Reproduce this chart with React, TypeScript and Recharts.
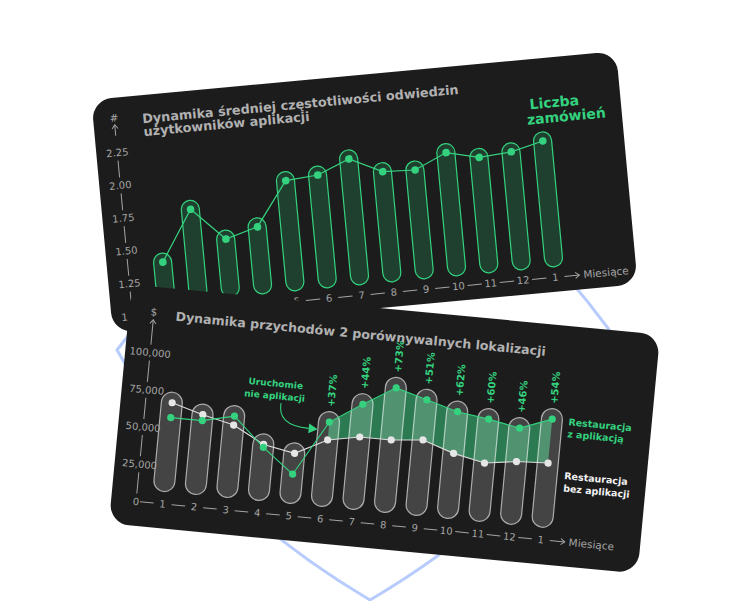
import React from 'react';
import { ComposedChart, Bar, Line, Area, XAxis, YAxis, LabelList } from 'recharts';

// --- data -------------------------------------------------------------
const months = ['1', '2', '3', '4', '5', '6', '7', '8', '9', '10', '11', '12', '1'];

const visitFrequency = [1.39, 1.77, 1.52, 1.59, 1.92, 1.94, 2.04, 1.92, 1.91, 2.02, 1.96, 1.98, 2.04];
const frequencyTicks = [1, 1.25, 1.5, 1.75, 2, 2.25];

const revenueWithApp = [58000, 58000, 63000, 44000, 28000, 65000, 79000, 92000, 86000, 80000, 77000, 73000, 81000];
const revenueWithoutApp = [68000, 62000, 57000, 46000, 42000, 53000, 57000, 57000, 59000, 52000, 47500, 50500, 51500];
const growthLabels = [null, null, null, null, null, '+37%', '+44%', '+73%', '+51%', '+62%', '+60%', '+46%', '+54%'];
const revenueTicks = [0, 25000, 50000, 75000, 100000];
const launchIndex = 5; // app launched before month 6

// --- styles -----------------------------------------------------------
const GREEN = '#34d27f';
const CARD_BG = '#1c1c1c';
const MUTED = '#a4a4a4';
const TITLE = '#b1b1b1';
const FONT = '"DejaVu Sans", sans-serif';

const frequencyData = months.map((m, i) => ({ month: m, value: visitFrequency[i] }));
const revenueData = months.map((m, i) => ({
  month: m,
  withApp: revenueWithApp[i],
  withoutApp: revenueWithoutApp[i],
  top: Math.max(revenueWithApp[i], revenueWithoutApp[i]),
  gap: i >= launchIndex ? [revenueWithoutApp[i], revenueWithApp[i]] : null,
  growth: growthLabels[i],
}));

function Pill(props: any) {
  const { x, y, width, height, inset, pillFill, pillStroke } = props;
  const r = width / 2;
  const top = y - r;
  const bottom = y + height - inset;
  return (
    <rect x={x} y={top} width={width} height={Math.max(bottom - top, width)} rx={r} ry={r}
      fill={pillFill} stroke={pillStroke} strokeWidth={1.2} />
  );
}

function YTick(props: any) {
  const { y, payload, index, count, labelX, step, fmt, symbol, symbolGap, arrowFrom, arrowTo } = props;
  const isTop = index === count - 1;
  return (
    <g>
      <text x={labelX} y={y} dy="0.35em" textAnchor="middle" fill={MUTED} fontSize={10} fontFamily={FONT}>
        {fmt(payload.value)}
      </text>
      {index > 0 && (
        <line x1={labelX} x2={labelX} y1={y + 8} y2={y + step - 8} stroke={MUTED} strokeWidth={1} />
      )}
      {isTop && (
        <g>
          <text x={labelX} y={y - symbolGap} dy="0.35em" textAnchor="middle" fill={MUTED} fontSize={10.5} fontFamily={FONT}>
            {symbol}
          </text>
          <line x1={labelX} x2={labelX} y1={y - arrowFrom} y2={y - arrowTo} stroke={MUTED} strokeWidth={1} />
          <path d={`M ${labelX - 3} ${y - arrowFrom + 4} L ${labelX} ${y - arrowFrom} L ${labelX + 3} ${y - arrowFrom + 4}`}
            fill="none" stroke={MUTED} strokeWidth={1} />
        </g>
      )}
    </g>
  );
}

function XTick(props: any) {
  const { x, y, payload, index, band, count } = props;
  return (
    <g>
      <line x1={x - band + 9} x2={x - 9} y1={y} y2={y} stroke={MUTED} strokeWidth={1} />
      <text x={x} y={y} dy="0.35em" textAnchor="middle" fill={MUTED} fontSize={10} fontFamily={FONT}>
        {payload.value}
      </text>
      {index === count - 1 && (
        <g>
          <line x1={x + 9} x2={x + 24} y1={y} y2={y} stroke={MUTED} strokeWidth={1} />
          <path d={`M ${x + 20} ${y - 3} L ${x + 24} ${y} L ${x + 20} ${y + 3}`} fill="none" stroke={MUTED} strokeWidth={1} />
          <text x={x + 28} y={y} dy="0.35em" fill={MUTED} fontSize={10.5} fontFamily={FONT}>Miesiące</text>
        </g>
      )}
    </g>
  );
}

function GrowthLabel(props: any) {
  const { value } = props;
  if (!value) return null;
  const px = props.x ?? props.viewBox?.x;
  const py = props.y ?? props.viewBox?.y;
  const ty = py - 10.5 - 5;
  return (
    <text x={px} y={ty} dy="0.35em" transform={`rotate(-90 ${px} ${ty})`} fill={GREEN}
      fontSize={10} fontWeight="bold" fontFamily={FONT}>
      {value}
    </text>
  );
}

const cardStyle = (cx: number, cy: number, w: number, h: number, angle: number): React.CSSProperties => ({
  position: 'absolute',
  left: cx - w / 2,
  top: cy - h / 2,
  width: w,
  height: h,
  background: CARD_BG,
  borderRadius: 20,
  overflow: 'hidden',
  transform: `rotate(${angle}deg)`,
});

const overlay: React.CSSProperties = { position: 'absolute', left: 0, top: 0, pointerEvents: 'none' };

function FrequencyCard() {
  const W = 527, H = 234;
  const band = 32.43;
  return (
    <div style={cardStyle(364, 192, W, H, -5.3)}>
      <ComposedChart width={W} height={H} data={frequencyData}
        margin={{ top: 55, right: 65, bottom: 0.5, left: 0 }}>
        <XAxis dataKey="month" interval={0} height={14} tickSize={0} tickMargin={0} axisLine={false} tickLine={false}
          tick={(p: any) => <XTick {...p} band={band} count={months.length} />} />
        <YAxis type="number" domain={[1, 2.25]} ticks={frequencyTicks} width={40} tickSize={0} tickMargin={0}
          axisLine={false} tickLine={false}
          tick={(p: any) => (
            <YTick {...p} count={frequencyTicks.length} labelX={21} step={32.9}
              fmt={(v: number) => v.toFixed(2)} symbol="#" symbolGap={35} arrowFrom={28} arrowTo={17} />
          )} />
        <Bar dataKey="value" barSize={18} isAnimationActive={false}
          shape={(p: any) => <Pill {...p} inset={10.5} pillFill="rgba(52,210,127,0.2)" pillStroke={GREEN} />} />
        <Line dataKey="value" stroke={GREEN} strokeWidth={1.2} isAnimationActive={false}
          dot={{ r: 3.8, fill: GREEN, stroke: 'none' }} />
      </ComposedChart>
      <svg width={W} height={H} style={overlay}>
        <g fontFamily={FONT} fontWeight="bold">
          <text x={49} y={28} fill={TITLE} fontSize={12.8}>Dynamika średniej częstotliwości odwiedzin</text>
          <text x={49} y={41} fill={TITLE} fontSize={12.8}>użytkowników aplikacji</text>
          <text x={436} y={50} fill={GREEN} fontSize={14}>Liczba</text>
          <text x={432} y={65} fill={GREEN} fontSize={14}>zamówień</text>
        </g>
      </svg>
    </div>
  );
}

function RevenueCard() {
  const W = 531, H = 234;
  const band = 31.66;
  return (
    <div style={cardStyle(384.3, 429, W, H + 6, 5.4)}>
      <div style={{ position: 'absolute', left: 0, top: 6, width: W, height: H }}>
        <ComposedChart width={W} height={H} data={revenueData}
          margin={{ top: 60, right: 83.6, bottom: 0.5, left: 0 }}>
          <XAxis dataKey="month" interval={0} height={24} tickSize={0} tickMargin={0} axisLine={false} tickLine={false}
            tick={(p: any) => <XTick {...p} band={band} count={months.length} />} />
          <YAxis type="number" domain={[0, 100000]} ticks={revenueTicks} width={35.8} tickSize={0} tickMargin={0}
            axisLine={false} tickLine={false}
            tick={(p: any) => (
              <YTick {...p} count={revenueTicks.length} labelX={25} step={37.4}
                fmt={(v: number) => v.toLocaleString('en-US')} symbol="$" symbolGap={41} arrowFrom={33} arrowTo={8} />
            )} />
          <Area dataKey="gap" type="linear" fill="#2b7a52" fillOpacity={1} stroke="none"
            isAnimationActive={false} connectNulls={false} />
          <Bar dataKey="top" barSize={21} isAnimationActive={false}
            shape={(p: any) => <Pill {...p} inset={12.5} pillFill="rgba(255,255,255,0.18)" pillStroke="rgba(255,255,255,0.6)" />} />
          <Line dataKey="withoutApp" stroke="#dcdcdc" strokeWidth={1.1} isAnimationActive={false}
            dot={{ r: 3.6, fill: '#e6e6e6', stroke: 'none' }} />
          <Line dataKey="withApp" stroke={GREEN} strokeWidth={1.1} isAnimationActive={false}
            dot={{ r: 3.6, fill: GREEN, stroke: 'none' }}>
            <LabelList dataKey="growth" content={(p: any) => <GrowthLabel {...p} />} />
          </Line>
        </ComposedChart>
        <svg width={W} height={H} style={overlay}>
          <g fontFamily={FONT} fontWeight="bold">
            <text x={47} y={26} fill={TITLE} fontSize={12.6}>Dynamika przychodów 2 porównywalnych lokalizacji</text>
            <text x={153} y={82} fill={GREEN} fontSize={9} textAnchor="middle">Uruchomie</text>
            <text x={153} y={94.5} fill={GREEN} fontSize={9} textAnchor="middle">nie aplikacji</text>
            <text x={448} y={93} fill={GREEN} fontSize={9.5}>Restauracja</text>
            <text x={448} y={105} fill={GREEN} fontSize={9.5}>z aplikacją</text>
            <text x={449} y={147} fill="#f2f2f2" fontSize={9.5}>Restauracja</text>
            <text x={449} y={159.5} fill="#f2f2f2" fontSize={9.5}>bez aplikacji</text>
          </g>
          <path d="M 160 98 C 159 112, 167 120.5, 190 120.5" fill="none" stroke={GREEN} strokeWidth={1.1} />
          <path d="M 190 115.5 L 199 120.5 L 190 125.5 Z" fill={GREEN} />
        </svg>
      </div>
    </div>
  );
}

export default function App() {
  return (
    <div style={{ position: 'absolute', left: 0, top: 0, width: 740, height: 601, background: '#ffffff', overflow: 'hidden' }}>
      <svg width={740} height={601} style={overlay}>
        <path d="M 372 110 Q 232 200 117 350 Q 200 500 370 600 Q 540 500 625 352 Q 521 202 372 110 Z"
          fill="none" stroke="#b7ccfd" strokeWidth={3} strokeLinejoin="round" />
      </svg>
      <FrequencyCard />
      <RevenueCard />
    </div>
  );
}
